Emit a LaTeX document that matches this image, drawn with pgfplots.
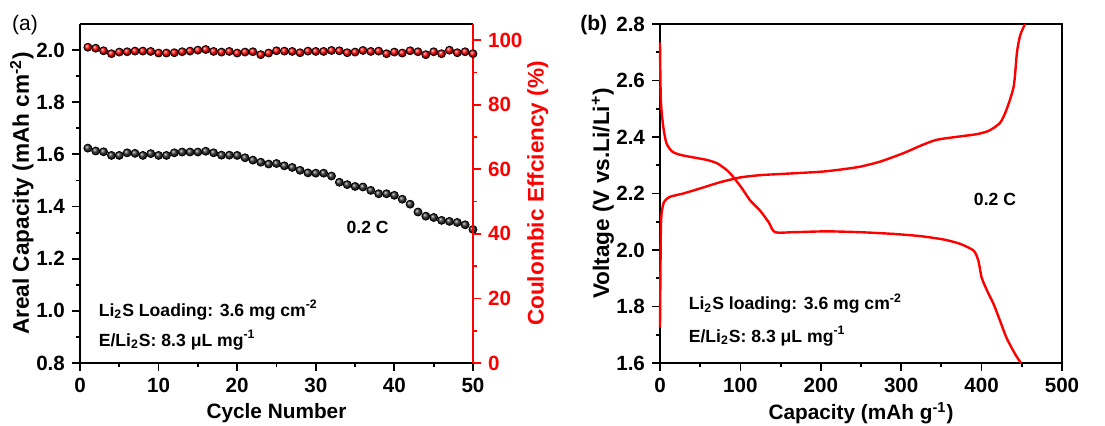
\documentclass[border=0pt]{standalone}
\usepackage{fontspec}
\setmainfont{Liberation Sans}
\usepackage{pgfplots}
\pgfplotsset{compat=1.18}

\pgfplotstableread{
cyc cap ce
1 1.624 97.8
2 1.613 97.5
3 1.610 96.7
4 1.596 95.8
5 1.596 96.3
6 1.606 96.4
7 1.604 96.6
8 1.596 96.6
9 1.603 96.5
10 1.596 96.0
11 1.596 96.0
12 1.606 96.1
13 1.609 96.4
14 1.609 96.6
15 1.609 96.9
16 1.612 97.1
17 1.606 96.5
18 1.597 96.3
19 1.597 96.5
20 1.596 96.0
21 1.587 96.3
22 1.578 96.4
23 1.570 95.5
24 1.563 96.0
25 1.565 96.7
26 1.556 96.6
27 1.550 96.5
28 1.539 96.1
29 1.529 96.6
30 1.528 96.5
31 1.528 96.5
32 1.517 96.8
33 1.493 96.7
34 1.484 96.1
35 1.477 96.3
36 1.475 96.8
37 1.462 96.5
38 1.449 96.6
39 1.449 95.8
40 1.443 96.3
41 1.428 96.0
42 1.409 96.7
43 1.379 96.4
44 1.363 95.5
45 1.358 96.4
46 1.347 95.8
47 1.343 96.9
48 1.339 96.1
49 1.330 96.4
50 1.312 95.8
}\cycdata

\pgfplotstableread{
q v
0 1.725
1 2.057
2 2.13
5 2.17
12 2.188
29 2.20
50 2.218
75 2.24
100 2.257
125 2.265
150 2.269
200 2.277
228 2.286
249 2.295
274 2.313
303 2.343
324 2.369
344 2.39
373 2.402
394 2.41
409 2.422
423 2.45
431 2.497
440 2.58
444 2.70
448 2.76
454 2.80
}\charge

\pgfplotstableread{
q v
0 2.735
1 2.533
4 2.438
8 2.378
15 2.349
25 2.337
41 2.328
58 2.319
71 2.307
83 2.283
91 2.259
102 2.218
112 2.176
124 2.141
135 2.099
143 2.063
166 2.063
207 2.066
249 2.063
290 2.057
324 2.049
353 2.037
373 2.022
390 1.998
396 1.962
400 1.903
407 1.855
415 1.808
423 1.749
431 1.689
442 1.630
449 1.60
}\discharge

\pgfplotsset{
  base/.style={
    scale only axis,
    height=169.5pt,
    axis line style={line width=1pt},
    every tick/.style={line width=0.9pt, black},
    tick align=outside,
    major tick length=4pt,
    minor tick length=2.2pt,
    xtick pos=bottom, ytick pos=left,
    ticklabel style={font=\fontsize{10.3}{11}\selectfont\bfseries},
    xlabel style={font=\fontsize{10.4}{11}\selectfont\bfseries},
    ylabel style={font=\fontsize{11.3}{12}\selectfont\bfseries},
    /pgf/number format/assume math mode=true,
    clip=false,
  },
}
\tikzset{note/.style={font=\fontsize{8.8}{10}\selectfont\bfseries}}

\begin{document}
\begin{tikzpicture}
\path[use as bounding box] (-40pt,-31.5pt) rectangle (512.5pt,181.5pt);

% (a) areal capacity
\begin{axis}[base,
  at={(0,0)}, anchor=south west,
  width=196.5pt,
  xmin=0, xmax=50, ymin=0.8, ymax=2.1,
  xtick={0,10,...,50}, minor x tick num=1,
  ytick={0.8,1.0,...,2.0}, minor y tick num=1,
  yticklabel style={/pgf/number format/fixed, /pgf/number format/fixed zerofill, /pgf/number format/precision=1},
  axis y line*=left, axis x line*=bottom,
  xlabel={Cycle Number},
  ylabel={Areal Capacity (mAh cm\textsuperscript{-2})},
  xlabel style={at={(axis description cs:0.5,-0.147)}, anchor=center},
  ylabel style={at={(axis description cs:-0.148,0.5)}, anchor=center},
]
\addplot[only marks, mark=ball, mark size=2pt, mark options={ball color=black!80}] table[x=cyc, y=cap] {\cycdata};
\draw[line width=1pt] (rel axis cs:0,1) -- (rel axis cs:1,1);
\node[note] at (axis cs:36.6,1.318) {0.2 C};
\node[note, anchor=west] at (axis cs:1.5,1.003) {Li\textsubscript{2}S Loading: 3.6 mg cm\textsuperscript{-2}};
\node[note, anchor=west] at (axis cs:1.5,0.888) {E/Li\textsubscript{2}S: 8.3 μL mg\textsuperscript{-1}};
\node[font=\fontsize{10.5}{11}\selectfont] at (axis description cs:-0.14,0.997) {(a)};
\end{axis}

% (a) coulombic efficiency
\begin{axis}[base,
  at={(0,0)}, anchor=south west,
  width=196.5pt,
  xmin=0, xmax=50, ymin=0, ymax=105,
  axis x line=none,
  axis y line*=right,
  ytick pos=right,
  ytick={0,20,...,100}, minor y tick num=1,
  y axis line style={red, line width=1pt},
  every tick/.style={line width=0.9pt, red},
  yticklabel style={red},
  ylabel={Coulombic Effciency (\%)},
  ylabel style={red, at={(axis description cs:1.165,0.5)}, anchor=center},
]
\addplot[only marks, mark=ball, mark size=2pt, mark options={ball color=red}] table[x=cyc, y=ce] {\cycdata};
\end{axis}

% (b) voltage profiles
\begin{axis}[base,
  at={(290pt,0)}, anchor=south west,
  width=201pt,
  xmin=0, xmax=500, ymin=1.6, ymax=2.8,
  xtick={0,100,...,500}, minor x tick num=1,
  ytick={1.6,1.8,...,2.8}, minor y tick num=1,
  yticklabel style={/pgf/number format/fixed, /pgf/number format/fixed zerofill, /pgf/number format/precision=1},
  xlabel={Capacity (mAh g\textsuperscript{-1})},
  ylabel={Voltage (V vs.Li/Li\textsuperscript{+})},
  xlabel style={at={(axis description cs:0.5,-0.147)}, anchor=center},
  ylabel style={at={(axis description cs:-0.142,0.5)}, anchor=center},
]
\addplot[red, line width=1.2pt, smooth, tension=0.4] table[x=q, y=v] {\charge};
\addplot[red, line width=1.2pt, smooth, tension=0.4] table[x=q, y=v] {\discharge};
\node[note] at (axis cs:416.7,2.18) {0.2 C};
\node[note, anchor=west] at (axis cs:27,1.81) {Li\textsubscript{2}S loading: 3.6 mg cm\textsuperscript{-2}};
\node[note, anchor=west] at (axis cs:27,1.696) {E/Li\textsubscript{2}S: 8.3 μL mg\textsuperscript{-1}};
\node[font=\fontsize{10.5}{11}\selectfont\bfseries] at (axis description cs:-0.165,0.997) {(b)};
\end{axis}
\end{tikzpicture}
\end{document}
